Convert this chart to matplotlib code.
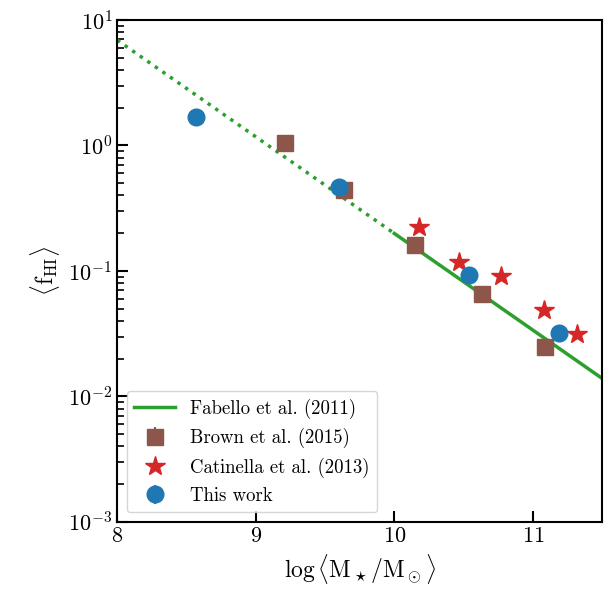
import numpy as np
import matplotlib
matplotlib.use('Agg')
import matplotlib.pyplot as plt

plt.rcParams['font.family'] = 'serif'
plt.rcParams['font.serif'] = ['cmr10']
plt.rcParams['mathtext.fontset'] = 'cm'
plt.rcParams['axes.formatter.use_mathtext'] = True

# Fabello et al. (2011) relation, solid where measured, dotted extrapolation
fab_x_solid = [10.0, 11.5]
fab_y_solid = [0.199, 0.0139]
fab_x_dot = [8.0, 10.0]
fab_y_dot = [6.92, 0.199]

# Brown et al. (2015)
brown_x = [9.21, 9.64, 10.15, 10.63, 11.09]
brown_y = [1.04, 0.44, 0.161, 0.066, 0.0248]
brown_err = [0.03, 0.012, 0.005, 0.002, 0.0008]

# Catinella et al. (2013)
cat_x = [10.18, 10.47, 10.77, 11.08, 11.32]
cat_y = [0.225, 0.117, 0.091, 0.0486, 0.0313]

# this work
tw_x = [8.57, 9.60, 10.54, 11.19]
tw_y = [1.69, 0.469, 0.093, 0.0321]
tw_err = [0.05, 0.012, 0.003, 0.001]

fig = plt.figure(figsize=(6.04, 5.89), dpi=100)
ax = fig.add_axes([0.194, 0.114, 0.803, 0.852])

l1, = ax.plot(fab_x_solid, fab_y_solid, color='tab:green', lw=2.5)
ax.plot(fab_x_dot, fab_y_dot, color='tab:green', lw=2.5, ls=':')
l2 = ax.errorbar(brown_x, brown_y, yerr=brown_err, fmt='s', color='tab:brown', ms=12)
l3, = ax.plot(cat_x, cat_y, '*', color='tab:red', ms=14.5, ls='none')
l4 = ax.errorbar(tw_x, tw_y, yerr=tw_err, fmt='o', color='tab:blue', ms=12)

ax.set_yscale('log')
ax.set_xlim(8, 11.5)
ax.set_ylim(1e-3, 10)
ax.set_xticks([8, 9, 10, 11])
ax.tick_params(which='both', direction='in', labelsize=16)
ax.tick_params(which='major', length=8, width=1.5)
ax.tick_params(which='minor', length=5, width=1.2)
for s in ax.spines.values():
    s.set_linewidth(1.5)

ax.set_xlabel(r'$\log\langle\mathrm{M_\star/M_\odot}\rangle$', fontsize=17)
ax.set_ylabel(r'$\langle\mathrm{f_{HI}}\rangle$', fontsize=17)

ax.legend([l1, l2, l3, l4],
          ['Fabello et al. (2011)', 'Brown et al. (2015)',
           'Catinella et al. (2013)', 'This work'],
          loc='lower left', fontsize=13.5, handlelength=2.2)

plt.savefig('out.png')
